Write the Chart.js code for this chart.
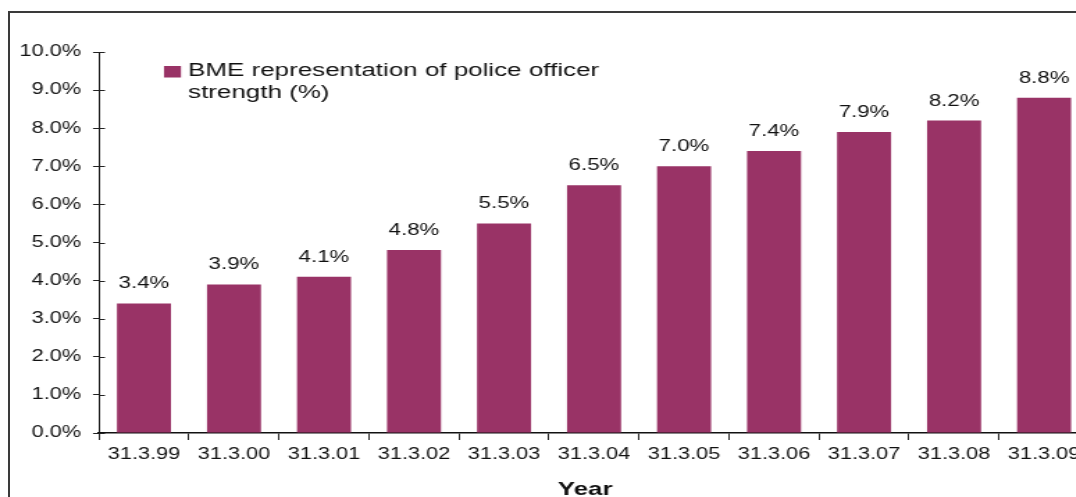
<!DOCTYPE html>
<html>
<head>
<meta charset="utf-8">
<script src="https://cdn.jsdelivr.net/npm/chart.js@4.4.1/dist/chart.umd.min.js"></script>
<style>
  html, body { margin: 0; padding: 0; background: #fff; overflow: hidden; width: 1076px; height: 497px; }
  #frame { position: absolute; left: 8px; top: 11px; width: 1200px; height: 600px; border: 2px solid #3a3a3a; }
  #wrap { position: absolute; left: 0; top: 0; width: 800px; height: 505px; transform: scaleX(1.39); transform-origin: 0 0; }
</style>
</head>
<body>
<div id="frame"></div>
<div id="wrap"><canvas id="bmeChart" width="800" height="505"></canvas></div>
<script>
// data
const years = ["31.3.99", "31.3.00", "31.3.01", "31.3.02", "31.3.03", "31.3.04", "31.3.05", "31.3.06", "31.3.07", "31.3.08", "31.3.09"];
const bmeShare = [3.4, 3.9, 4.1, 4.8, 5.5, 6.5, 7.0, 7.4, 7.9, 8.2, 8.8];
const seriesName = ["BME representation of police officer", "strength (%)"];
const axisTitle = "Year";
const barColour = "#993366";
const FONT = "'Liberation Sans', Arial, sans-serif";

// value labels above every bar
const valueLabels = {
    id: 'valueLabels',
    afterDatasetsDraw(chart) {
        const ctx = chart.ctx;
        const meta = chart.getDatasetMeta(0);
        ctx.save();
        ctx.font = "16px " + FONT;
        ctx.fillStyle = "#111";
        ctx.textAlign = "center";
        ctx.textBaseline = "alphabetic";
        meta.data.forEach((bar, i) => {
            ctx.fillText(bmeShare[i].toFixed(1) + "%", bar.x, bar.y - 15);
        });
        ctx.restore();
    }
};

// legend box inside the plot, top left; also the axis title and the inner half of the y ticks
const extras = {
    id: 'extras',
    afterDraw(chart) {
        const ctx = chart.ctx;
        const y = chart.scales.y;
        const area = chart.chartArea;
        ctx.save();
        // y ticks cross the axis
        ctx.strokeStyle = "#222";
        ctx.lineWidth = 1;
        y.ticks.forEach(t => {
            const py = Math.round(y.getPixelForValue(t.value)) + 0.5;
            ctx.beginPath();
            ctx.moveTo(area.left, py);
            ctx.lineTo(area.left + 4.3, py);
            ctx.stroke();
        });
        // legend
        ctx.fillStyle = barColour;
        ctx.fillRect(118, 66, 12.2, 11.5);
        ctx.fillStyle = "#111";
        ctx.font = "18.7px " + FONT;
        ctx.textAlign = "left";
        ctx.textBaseline = "alphabetic";
        ctx.fillText(seriesName[0], 135.3, 75.5);
        ctx.fillText(seriesName[1], 135.3, 97.5);
        // x axis title
        ctx.font = "bold 18.6px " + FONT;
        ctx.textAlign = "center";
        ctx.fillText(axisTitle, 421, 495);
        ctx.restore();
    }
};

new Chart('bmeChart', {
    type: 'bar',
    data: {
        labels: years,
        datasets: [{
            label: seriesName.join(" "),
            data: bmeShare,
            backgroundColor: barColour,
            barPercentage: 0.6,
            categoryPercentage: 1
        }]
    },
    options: {
        responsive: false,
        animation: false,
        devicePixelRatio: 1,
        layout: { padding: { top: 52, right: 16.5, left: 0, bottom: 0 } },
        plugins: {
            legend: { display: false },
            tooltip: { enabled: false }
        },
        scales: {
            x: {
                grid: { drawOnChartArea: false, drawTicks: true, tickLength: 7, tickColor: "#222", tickWidth: 1 },
                border: { display: true, color: "#111", width: 1.5 },
                ticks: { color: "#111", font: { family: FONT, size: 15.6 }, padding: 5, maxRotation: 0 },
                title: { display: false },
                afterFit(scale) { scale.height = 72; }
            },
            y: {
                min: 0,
                max: 10,
                grid: { drawOnChartArea: false, drawTicks: true, tickLength: 4.3, tickColor: "#222", tickWidth: 1 },
                border: { display: true, color: "#111", width: 1 },
                ticks: {
                    stepSize: 1,
                    color: "#111",
                    padding: 8.6,
                    font: { family: FONT, size: 15.6 },
                    callback: v => v.toFixed(1) + "%"
                },
                afterFit(scale) { scale.width = 71.2; }
            }
        }
    },
    plugins: [valueLabels, extras]
});
</script>
</body>
</html>
